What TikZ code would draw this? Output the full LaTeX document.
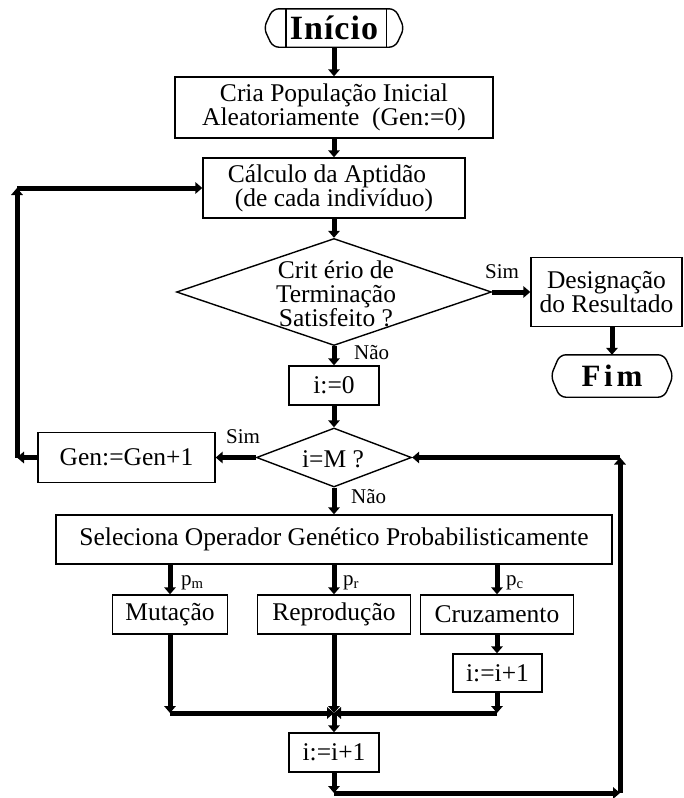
\documentclass[tikz,border=0pt]{standalone}
\usepackage{fontspec}
\setmainfont{Liberation Serif}
\newfontfamily\termfont[LetterSpace=12]{Liberation Serif}
\newfontfamily\startfont[LetterSpace=3]{Liberation Serif}
\usetikzlibrary{arrows.meta,shapes.geometric}
\newcommand\mainfs{\fontsize{25.5}{24}\selectfont}
\newcommand\lblfs{\fontsize{21}{22}\selectfont}
\newcommand\termfs{\termfont\bfseries\fontsize{31}{31}\selectfont}
\newcommand\startfs{\startfont\bfseries\fontsize{34}{34}\selectfont}
\begin{document}
\begin{tikzpicture}[x=1pt,y=-1pt,
  box/.style={draw,line width=1.4pt,inner sep=0pt,align=center,font=\mainfs},
  dia/.style={draw,shape=diamond,line width=1.4pt,inner sep=0pt},
  diatext/.style={align=center,font=\mainfs,inner sep=0pt},
  term/.style={inner sep=0pt,font=\termfs},
  termline/.style={line width=1.4pt,rounded corners=6pt},
  lbl/.style={inner sep=0pt,font=\lblfs},
  flow/.style={line width=5pt,-{Triangle[length=7pt,width=11.5pt]}}]
\useasboundingbox (0,0) rectangle (684,798);

% ---- nodes ----
\node[term,font=\startfs,minimum width=140pt,minimum height=38pt] (ini) at (334,28) {Início};
\node[box,minimum width=318pt,minimum height=61pt] (cria) at (334,107.5)
  {Cria População Inicial\\Aleatoriamente~ (Gen:=0)};
\node[box,minimum width=262pt,minimum height=60pt,align=left] (calc) at (334,188)
  {Cálculo da Aptidão\hspace*{14pt}\\\hspace*{7pt}(de cada indivíduo)};
\node[dia,minimum width=315pt,minimum height=107pt] (d1) at (334,292) {};
\node[diatext] (d1t) at (336,294) {Crit ério de\\Terminação\\Satisfeito ?};
\node[box,minimum width=151pt,minimum height=69pt] (desig) at (606.5,292)
  {Designação\\do Resultado};
\node[term,minimum width=122pt,minimum height=42pt] (fim) at (612,376) {Fim};
\node[box,minimum width=90pt,minimum height=39pt] (i0) at (334,385.5) {i:=0};
\node[dia,minimum width=155pt,minimum height=59pt] (d2) at (334,457.5) {};
\node[diatext] (d2t) at (333,459) {i=M ?};
\node[box,minimum width=177pt,minimum height=50pt] (gen) at (126.5,457.5) {Gen:=Gen+1};
\node[box,minimum width=556pt,minimum height=49pt] (sel) at (334,539.5)
  {Seleciona Operador Genético Probabilisticamente};
\node[box,minimum width=115pt,minimum height=39pt] (mut) at (170,614.5) {Mutação};
\node[box,minimum width=153pt,minimum height=39pt] (rep) at (334,614.5) {Reprodução};
\node[box,minimum width=153pt,minimum height=39pt] (cru) at (497,614.5) {Cruzamento};
\node[box,minimum width=89pt,minimum height=38pt] (inc1) at (497.5,673) {i:=i+1};
\node[box,minimum width=90pt,minimum height=39pt] (inc2) at (334,752.5) {i:=i+1};

% ---- terminal outlines ----
\draw[termline] ([xshift=9pt]ini.north west) -- ([xshift=-9pt]ini.north east)
  -- (ini.east) -- ([xshift=-9pt]ini.south east) -- ([xshift=9pt]ini.south west)
  -- (ini.west) -- cycle;
\draw[line width=1.4pt] ([xshift=22pt]ini.north west) -- ([xshift=22pt]ini.south west);
\draw[line width=1.4pt] ([xshift=-18pt]ini.north east) -- ([xshift=-18pt]ini.south east);
\draw[termline] ([xshift=9pt]fim.north west) -- ([xshift=-9pt]fim.north east)
  -- (fim.east) -- ([xshift=-9pt]fim.south east) -- ([xshift=9pt]fim.south west)
  -- (fim.west) -- cycle;

% ---- corner points of the connectors ----
\coordinate (cL1) at (17,457.5);
\coordinate (cL2) at (17,188);
\coordinate (mL) at (170,713);
\coordinate (mC) at (334,713);
\coordinate (mR) at (497,713);
\coordinate (bL) at (334,793);
\coordinate (bR) at (620,793);
\coordinate (tR) at (620,457.5);

% ---- connectors ----
\draw[flow] (ini.south) -- (cria.north);
\draw[flow] (cria.south) -- (calc.north);
\draw[flow] (calc.south) -- (d1.north);
\draw[flow] (d1.east) -- (desig.west);
\draw[flow] (desig.south -| fim.north) -- (fim.north);
\draw[flow] (d1.south) -- (i0.north);
\draw[flow] (i0.south) -- (d2.north);
\draw[flow] (d2.west) -- (gen.east);
\draw[flow] (gen.west) -- (cL1);
\draw[flow] (cL1) -- (cL2);
\draw[flow] (cL2) -- (calc.west);
\draw[flow] (d2.south) -- (sel.north);
\draw[flow] (sel.south -| mut.north) -- (mut.north);
\draw[flow] (sel.south -| rep.north) -- (rep.north);
\draw[flow] (sel.south -| cru.north) -- (cru.north);
\draw[flow] (cru.south) -- (cru.south |- inc1.north);
\draw[flow] (mut.south) -- (mL);
\draw[flow] (rep.south) -- (mC);
\draw[flow] (inc1.south -| mR) -- (mR);
\draw[flow] (mL) -- (mC);
\draw[flow] (mR) -- (mC);
\draw[flow] (mC) -- (inc2.north);
\draw[flow] (inc2.south) -- (bL);
\draw[flow] (bL) -- (bR);
\draw[flow] (bR) -- (tR);
\draw[flow] (tR) -- (d2.east);

% ---- labels ----
\node[lbl] (s1) at (502,272) {Sim};
\node[lbl,anchor=west] (n1) at (354,353) {Não};
\node[lbl] (s2) at (243,437) {Sim};
\node[lbl,anchor=west] (n2) at (351,497) {Não};
\node[lbl,anchor=west] (pm) at (181,583) {p\textsubscript{m}};
\node[lbl,anchor=west] (pr) at (343,583) {p\textsubscript{r}};
\node[lbl,anchor=west] (pc) at (506,583) {p\textsubscript{c}};
\end{tikzpicture}
\end{document}
